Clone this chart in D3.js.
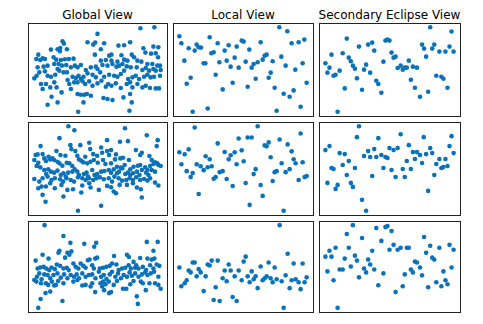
<!DOCTYPE html>
<html>
<head>
<meta charset="utf-8">
<script src="https://cdn.jsdelivr.net/npm/d3@7"></script>
<style>
  body { margin: 0; background: #fff; }
  svg { display: block; }
</style>
</head>
<body>
<div id="chart"></div>
<script>
// column titles
const titles = ["Global View", "Local View", "Secondary Eclipse View"];

// points per panel, [phase, depth] (depth measured downward, arbitrary units)
const global1 = [[349,33],[391,30],[220,50],[115,72],[119,79],[190,75],[207,82],[213,76],[240,78],[283,85],[300,84],[318,75],
  [80,97],[100,96],[108,92],[107,102],[128,96],[230,96],[358,93],[388,88],[403,90],
  [212,112],[255,115],[262,112],[292,114],[323,112],[364,106],[381,109],[395,108],[402,120],
  [42,112],[36,125],[55,123],[48,128],[62,125],[88,120],[96,127],[110,128],[122,126],[134,125],[148,124],
  [245,128],[230,130],[262,130],[280,133],[300,127],[310,130],[330,120],[340,130],[352,133],[370,140],[385,140],[400,145],[408,145],
  [40,150],[58,148],[70,145],[90,140],[103,140],[113,145],[126,143],[140,150],[152,145],[160,150],[170,143],
  [185,158],[200,150],[215,148],[220,155],[235,143],[250,145],[265,140],[277,148],[285,145],[295,140],[308,147],[320,150],[338,150],[355,158],[365,152],[375,160],[388,155],[395,160],[410,158],
  [30,183],[37,175],[45,165],[62,162],[70,175],[80,178],[93,172],[100,155],[105,160],[118,165],[128,165],[130,188],[145,178],[155,182],[163,175],[170,185],[178,178],[190,168],[205,172],[215,180],[228,165],[240,178],[255,172],[270,175],[280,178],[290,170],[300,160],[312,185],[325,180],[335,175],[345,185],[360,178],[370,172],[380,180],[390,178],[408,175],
  [50,200],[55,215],[65,200],[78,210],[90,195],[97,210],[112,225],[135,200],[140,215],[150,195],[160,195],[175,192],[183,200],[195,192],[205,205],[220,198],[232,190],[245,208],[252,200],[262,205],[275,198],[290,212],[308,200],[318,195],[325,210],[340,200],[355,210],[365,205],[378,212],[395,213],[405,213],
  [70,262],[82,238],[100,255],[160,230],[170,232],[180,232],[188,230],[200,235],[178,255],[238,242],[250,245],[265,248],[298,240],[318,230],[323,255],[162,283],[316,280]];

const local1 = [[30,57],[36,78],[58,93],[76,100],[82,82],[88,90],[95,91],[121,60],[145,78],[178,84],[166,100],[126,108],[133,105],[217,70],[223,73],[202,88],[240,97],[274,75],[330,30],[354,42],[367,78],[388,75],[405,67],
  [45,130],[103,138],[108,138],[150,135],[172,130],[196,121],[184,148],[208,151],[229,133],[247,151],[253,140],[265,135],[280,127],[286,115],[292,112],[310,132],[336,118],[349,145],[400,138],[378,157],
  [139,172],[64,181],[52,199],[160,216],[190,196],[235,208],[259,184],[298,181],[304,166],[316,211],[343,229],[361,238],[373,219],[412,196],[115,273],[70,283],[322,280],[394,268]];

const second1 = [[343,30],[406,43],[97,64],[133,88],[160,82],[172,76],[178,100],[211,70],[217,67],[223,70],[52,112],[85,108],[103,121],[109,132],[115,145],[121,154],
  [34,138],[46,151],[40,166],[58,175],[64,172],[76,160],[127,183],[148,157],[154,142],[166,166],[184,190],[190,200],[199,226],[142,217],[91,213],
  [205,133],[229,106],[235,121],[241,118],[247,152],[256,145],[262,157],[268,151],[274,151],[280,130],[292,148],[304,151],[286,187],[298,211],[313,238],[337,223],
  [319,82],[325,94],[331,118],[349,94],[355,82],[370,103],[388,103],[400,88],[412,103],[361,175],[376,178],[382,184],[394,211],[70,283]];

const global2 = [[133,28],[151,40],[304,34],[106,64],[370,55],[403,70],[162,283],[232,268],[64,256],
  [49,88],[139,85],[169,85],[196,78],[250,70],[289,75],[313,73],[400,88],[232,92],[262,100],[97,103],[154,103],[199,97],[142,97],[337,100],
  [34,115],[40,113],[55,112],[73,120],[85,125],[109,115],[124,117],[160,117],[184,120],[208,112],[220,117],[235,108],[250,103],[256,115],[277,113],[290,125],[298,123],[316,130],[350,115],[355,108],[378,118],[385,130],[395,137],[402,140],
  [30,130],[42,138],[37,148],[48,152],[60,125],[65,133],[78,128],[90,130],[100,135],[106,140],[115,147],[128,138],[136,140],[145,148],[165,128],[172,132],[178,137],[190,140],[200,135],[210,130],[222,138],[238,130],[245,142],[262,140],[274,128],[280,150],[292,153],[303,145],[320,158],[330,150],[343,147],[350,145],[365,152],[372,160],[380,148],[390,142],[405,145],[412,148],
  [60,160],[66,172],[72,158],[80,165],[90,168],[100,162],[110,175],[118,170],[125,180],[132,168],[145,165],[152,158],[160,165],[165,175],[180,172],[188,168],[192,180],[205,160],[212,175],[220,172],[232,165],[242,163],[255,160],[262,168],[270,158],[280,170],[286,165],[296,155],[305,172],[313,168],[320,175],[328,170],[340,165],[348,175],[355,160],[368,168],[375,175],[385,160],[395,165],
  [30,187],[45,195],[55,185],[70,180],[82,190],[92,185],[108,188],[117,195],[127,185],[140,190],[150,195],[162,182],[175,185],[185,190],[195,185],[208,190],[218,185],[228,182],[240,188],[255,185],[265,195],[272,180],[285,185],[295,192],[308,190],[318,185],[328,190],[338,182],[350,190],[362,187],[372,192],[380,185],[395,198],
  [42,215],[52,210],[65,210],[78,200],[92,215],[112,205],[130,220],[147,218],[175,207],[196,200],[200,213],[225,220],[250,208],[262,212],[270,225],[277,230],[288,205],[310,205],[328,200],[340,213],[352,218],[405,207],[355,243],[118,240],[55,235],[172,228]];

const local2 = [[76,31],[265,27],[394,49],[145,79],[208,64],[235,61],[247,61],[331,67],[298,76],[286,85],[292,88],[58,97],[30,106],[46,112],[166,105],[196,106],[217,100],[184,115],[178,127],[109,118],[121,127],[367,103],[355,82],[304,121],[373,127],[379,139],[400,136],[337,139],
  [36,142],[82,142],[94,148],[103,160],[115,151],[127,148],[202,142],[223,133],[52,163],[70,169],[64,181],[151,166],[160,163],[133,186],[139,181],[172,187],[259,157],[253,172],[316,166],[322,163],[349,166],[361,157],
  [190,208],[229,199],[274,205],[310,193],[388,190],[406,181],[412,178],[88,232],[280,238],[241,265],[343,283]];

const second2 = [[133,28],[127,61],[190,64],[256,52],[324,61],[406,58],[46,88],[34,100],[280,85],[400,88],[76,109],[91,112],[160,103],[178,97],[223,94],[235,100],[247,94],[292,106],[304,106],[313,115],[331,112],[343,94],[349,109],[412,109],
  [148,118],[166,121],[184,121],[199,115],[211,121],[217,124],[103,133],[85,145],[274,133],[298,127],[319,139],[370,127],[388,127],[361,142],
  [52,154],[58,157],[121,154],[205,154],[229,160],[262,157],[286,157],[376,154],[382,151],[394,148],[97,175],[172,178],[241,181],[268,181],[355,175],
  [40,199],[70,205],[64,217],[109,199],[115,211],[337,223],[142,250],[154,283]];

const global3 = [[61,28],[118,61],[42,280],[49,253],[343,268],[340,245],[115,259],
  [139,82],[181,85],[217,82],[211,94],[370,79],[403,79],[390,106],[55,118],[106,106],[103,112],[130,112],[136,118],[142,108],[123,127],[73,130],[34,136],[197,133],[220,127],[214,130],[271,122],[310,118],[316,125],[350,128],[372,130],[385,133],[393,130],[330,140],[338,150],
  [40,160],[48,157],[58,155],[66,160],[75,165],[82,157],[92,162],[98,148],[108,152],[118,160],[128,158],[134,165],[148,145],[155,155],[163,160],[170,145],[178,152],[185,158],[192,135],[205,150],[210,160],[228,160],[238,158],[248,155],[258,152],[265,145],[278,148],[285,165],[295,160],[305,158],[315,150],[322,160],[335,158],[345,160],[358,155],[368,165],[380,150],[390,160],[400,148],[408,152],
  [30,195],[38,185],[45,175],[52,193],[60,178],[70,180],[78,190],[88,180],[100,175],[110,188],[120,178],[130,190],[140,180],[150,185],[158,178],[165,190],[175,175],[185,185],[195,180],[205,178],[215,190],[225,170],[232,185],[240,180],[248,192],[258,178],[265,170],[275,185],[283,175],[292,190],[300,180],[310,185],[318,172],[325,182],[335,175],[345,185],[355,178],[365,172],[372,180],[382,175],[392,170],[405,185],
  [36,200],[50,205],[65,205],[72,210],[83,200],[95,210],[102,198],[118,205],[148,200],[160,195],[175,212],[185,210],[200,215],[205,205],[230,205],[238,200],[245,208],[255,200],[270,210],[280,198],[298,222],[308,222],[320,208],[330,198],[352,200],[358,205],[378,205],[395,205],[405,210],[412,222],
  [64,235],[78,230],[90,212],[214,232],[235,215],[241,226],[256,235],[262,232],[367,226]];

const local3 = [[331,28],[355,115],[229,124],[223,139],[127,136],[145,136],[70,142],[76,142],[115,148],[121,151],[178,148],[298,142],[373,145],[400,145],[30,157],[88,162],[58,166],[64,172],[94,172],[166,166],[184,166],[208,166],[247,169],[274,154],[316,157],
  [82,184],[109,184],[160,190],[172,199],[196,184],[217,196],[235,184],[241,202],[253,193],[259,184],[280,196],[286,190],[292,184],[304,190],[310,202],[322,193],[337,199],[349,181],[367,196],[379,193],[388,202],[406,202],[412,187],
  [52,196],[46,205],[36,214],[139,217],[265,220],[361,220],[394,223],[103,229],[133,256],[151,259],[190,247],[202,259],[343,280]];

const second3 = [[115,28],[184,37],[211,34],[217,31],[229,46],[97,55],[142,67],[325,64],[199,76],[235,88],[400,88],[343,91],[64,97],[46,106],[103,97],[34,124],[52,124],[91,130],[121,121],[127,136],[160,133],[172,106],[223,103],[247,103],[256,97],[274,97],[280,97],[331,112],[349,127],[355,133],[370,97],[412,103],
  [298,139],[304,142],[313,157],[166,148],[148,160],[154,172],[178,163],[109,154],[76,163],[85,163],[40,169],[286,163],[292,172],[268,178],[205,175],[133,187],[319,181],[382,169],[406,157],
  [58,196],[190,211],[262,214],[241,232],[337,217],[361,202],[376,214],[388,196],[394,208],[70,280]];

const panels = [
  [global1, local1, second1],
  [global2, local2, second2],
  [global3, local3, second3]
];

const width = 483, height = 324;
const colX = [[28, 167], [173, 313], [319, 460]];
const rowY = [[23, 116], [122, 215], [221, 312]];

const svg = d3.select("#chart").append("svg")
  .attr("width", width)
  .attr("height", height);

// matplotlib style 5% margins around the data
function padded(vals) {
  const [lo, hi] = d3.extent(vals);
  const m = (hi - lo) * 0.05;
  return [lo - m, hi + m];
}

panels.forEach((row, r) => {
  row.forEach((pts, c) => {
    const [x0, x1] = colX[c];
    const [y0, y1] = rowY[r];
    const x = d3.scaleLinear().domain(padded(pts.map(d => d[0]))).range([x0, x1]);
    const y = d3.scaleLinear().domain(padded(pts.map(d => d[1]))).range([y0, y1]);

    const g = svg.append("g");
    g.selectAll("circle")
      .data(pts)
      .enter().append("circle")
      .attr("cx", d => x(d[0]))
      .attr("cy", d => y(d[1]))
      .attr("r", 2.3)
      .attr("fill", "#0a72ba");

    g.append("rect")
      .attr("x", x0 + 0.5).attr("y", y0 + 0.5)
      .attr("width", x1 - x0).attr("height", y1 - y0)
      .attr("fill", "none")
      .attr("stroke", "#222")
      .attr("stroke-width", 1);

    if (r === 0) {
      svg.append("text")
        .attr("x", (x0 + x1) / 2)
        .attr("y", y0 - 4)
        .attr("text-anchor", "middle")
        .attr("font-family", "DejaVu Sans, sans-serif")
        .attr("font-size", 12)
        .attr("fill", "#000")
        .text(titles[c]);
    }
  });
});
</script>
</body>
</html>
